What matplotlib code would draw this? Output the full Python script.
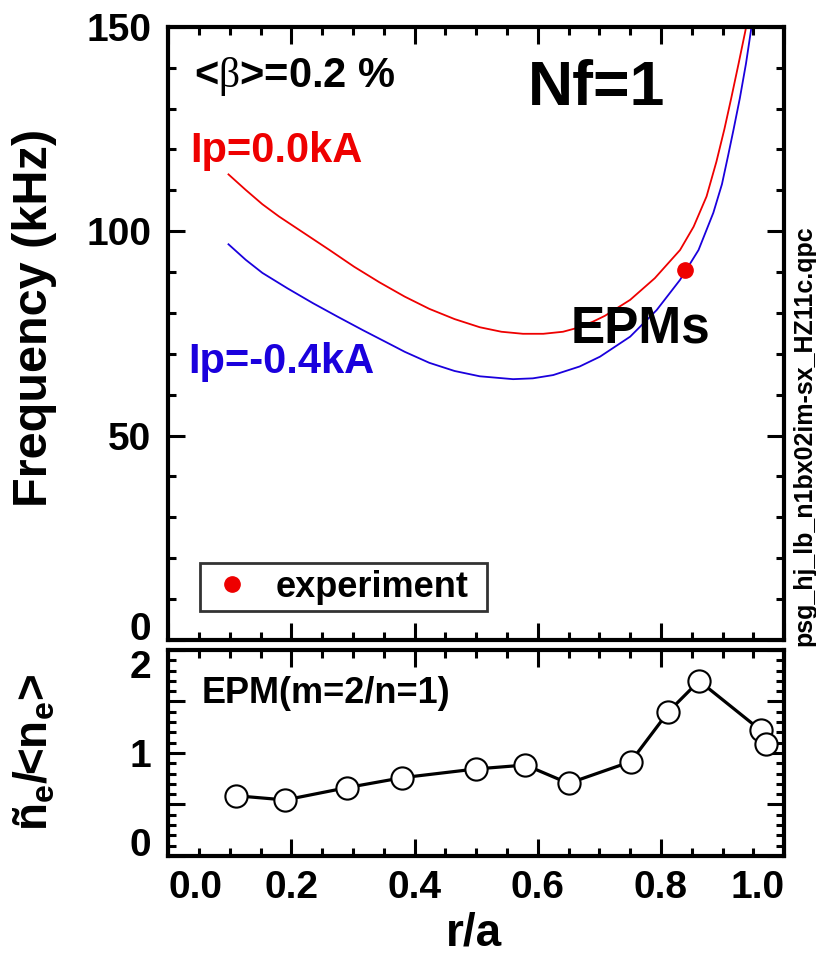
import numpy as np
import matplotlib
matplotlib.use("Agg")
import matplotlib.pyplot as plt
from matplotlib.ticker import MultipleLocator
from matplotlib.lines import Line2D

plt.rcParams['font.family'] = ['Liberation Sans', 'DejaVu Sans']
plt.rcParams['font.weight'] = 'bold'
plt.rcParams['mathtext.fontset'] = 'custom'
plt.rcParams['mathtext.rm'] = 'Liberation Serif:weight=normal'
plt.rcParams['mathtext.bf'] = 'Liberation Sans:bold'
plt.rcParams['mathtext.it'] = 'Liberation Sans:bold'

# frequency curves (r/a, kHz)
r_ip0 = [0.098, 0.126, 0.153, 0.180, 0.221, 0.262, 0.302, 0.343, 0.384, 0.424,
         0.465, 0.506, 0.541, 0.576, 0.609, 0.641, 0.668, 0.690, 0.709, 0.750,
         0.790, 0.831, 0.853, 0.874, 0.890, 0.903, 0.914, 0.926, 0.937, 0.940]
f_ip0 = [113.9, 110.1, 106.6, 103.6, 99.5, 95.4, 91.3, 87.5, 84.0, 81.0,
         78.5, 76.5, 75.4, 74.9, 74.9, 75.4, 76.5, 77.9, 79.3, 83.2,
         88.5, 95.4, 101.1, 108.5, 117.0, 125.0, 132.5, 141.0, 149.0, 151.5]
r_ip4 = [0.098, 0.126, 0.153, 0.194, 0.235, 0.275, 0.316, 0.343, 0.370, 0.384,
         0.424, 0.465, 0.506, 0.560, 0.592, 0.625, 0.668, 0.701, 0.750, 0.793,
         0.831, 0.861, 0.885, 0.899, 0.909, 0.918, 0.928, 0.938, 0.946, 0.949]
f_ip4 = [96.8, 93.0, 89.8, 86.0, 82.4, 79.1, 75.8, 73.7, 71.6, 70.5,
         67.8, 65.8, 64.5, 63.8, 64.0, 64.8, 66.9, 69.3, 74.2, 80.7,
         88.1, 95.4, 104.5, 111.5, 118.5, 125.0, 132.5, 141.0, 149.0, 152.5]

# experiment point
r_exp = [0.839]
f_exp = [90.5]

# density fluctuation profile
r_prof = [0.110, 0.190, 0.290, 0.380, 0.500, 0.580, 0.650, 0.751, 0.812, 0.862, 0.962, 0.970]
ne_prof = [0.585, 0.544, 0.663, 0.760, 0.845, 0.883, 0.705, 0.916, 1.40, 1.70, 1.22, 1.09]

red = '#ee0000'
blue = '#1a00dd'

fig = plt.figure(figsize=(8.16, 9.58), dpi=100)
ax1 = fig.add_axes([0.206, 0.332, 0.755, 0.640])
ax2 = fig.add_axes([0.206, 0.1065, 0.755, 0.215])

for ax in (ax1, ax2):
    for s in ax.spines.values():
        s.set_linewidth(3)
    ax.set_xlim(0, 1.0)
    ax.xaxis.set_minor_locator(MultipleLocator(0.05))
    ax.tick_params(which='both', direction='in', top=True, right=True, width=2.2,
                   labelsize=28)
    ax.tick_params(which='major', length=12)
    ax.tick_params(which='minor', length=6)

# top panel
ax1.plot(r_ip0, f_ip0, color=red, lw=1.3)
ax1.plot(r_ip4, f_ip4, color=blue, lw=1.3)
ax1.plot(r_exp, f_exp, 'o', color=red, ms=11, mec=red)
ax1.set_ylim(0, 150)
ax1.set_xticks([0, 0.2, 0.4, 0.6, 0.8, 1.0])
ax1.tick_params(labelbottom=False)
ax1.set_yticks([0, 50, 100, 150])
ylab1 = ax1.set_yticklabels(['0', '50', '100', '150'])
ylab1[0].set_va('baseline')
ax1.yaxis.set_minor_locator(MultipleLocator(10))
ax1.tick_params(axis='y', pad=12)

ax1.text(0.042, 0.902, r'<$\mathrm{\beta}$>=0.2 %', transform=ax1.transAxes,
         fontsize=30, va='baseline')
ax1.text(0.584, 0.873, 'Nf=1', transform=ax1.transAxes, fontsize=45, va='baseline')
ax1.text(0.036, 0.780, 'Ip=0.0kA', transform=ax1.transAxes, fontsize=30,
         color=red, va='baseline')
ax1.text(0.032, 0.4356, 'Ip=-0.4kA', transform=ax1.transAxes, fontsize=30,
         color=blue, va='baseline')
ax1.text(0.654, 0.4845, 'EPMs', transform=ax1.transAxes, fontsize=37, va='baseline')

h = Line2D([], [], marker='o', ls='none', color=red, ms=11)
leg = ax1.legend([h], ['experiment'], loc='lower left',
                 bbox_to_anchor=(0.052, 0.047, 0.466, 0.08), mode='expand',
                 borderaxespad=0, fontsize=26, frameon=True, fancybox=False,
                 borderpad=0.18, handletextpad=0.5, handlelength=1.4)
leg.get_frame().set_edgecolor('black')
leg.get_frame().set_linewidth(2)

# bottom panel
ax2.plot(r_prof, ne_prof, '-o', color='black', lw=2.3, ms=16, mfc='white',
         mec='black', mew=1.5)
ax2.set_ylim(0, 2)
ax2.set_yticks([0, 0.5, 1, 1.5, 2])
ylab2 = ax2.set_yticklabels(['0', '', '1', '', '2'])
ylab2[0].set_va('baseline')
ylab2[4].set_va('top')
ax2.yaxis.set_minor_locator(MultipleLocator(0.1))
ax2.set_xticks([0, 0.2, 0.4, 0.6, 0.8, 1.0])
xlab2 = ax2.set_xticklabels(['0.0', '0.2', '0.4', '0.6', '0.8', '1.0'])
xlab2[0].set_ha('left')
xlab2[-1].set_ha('right')
ax2.tick_params(axis='x', pad=10)
ax2.tick_params(axis='y', pad=12)
ax2.text(0.055, 0.743, 'EPM(m=2/n=1)', transform=ax2.transAxes, fontsize=26,
         va='baseline')

fig.text(35 / 816, 1 - 318 / 958, 'Frequency (kHz)', rotation=90, fontsize=35,
         ha='center', va='center')
fig.text(35 / 816, 1 - 752 / 958, r'ñ$_\mathbf{e}$/<n$_\mathbf{e}$>', rotation=90,
         fontsize=33, ha='center', va='center')
fig.text(474 / 816, 1 - 946 / 958, 'r/a', fontsize=33, ha='center', va='baseline')
fig.text(804 / 816, 1 - 436 / 958, 'psg_hj_lb_n1bx02im-sx_HZ11c.qpc', rotation=90,
         fontsize=18, ha='center', va='center')

fig.savefig('out.png', dpi=100)
